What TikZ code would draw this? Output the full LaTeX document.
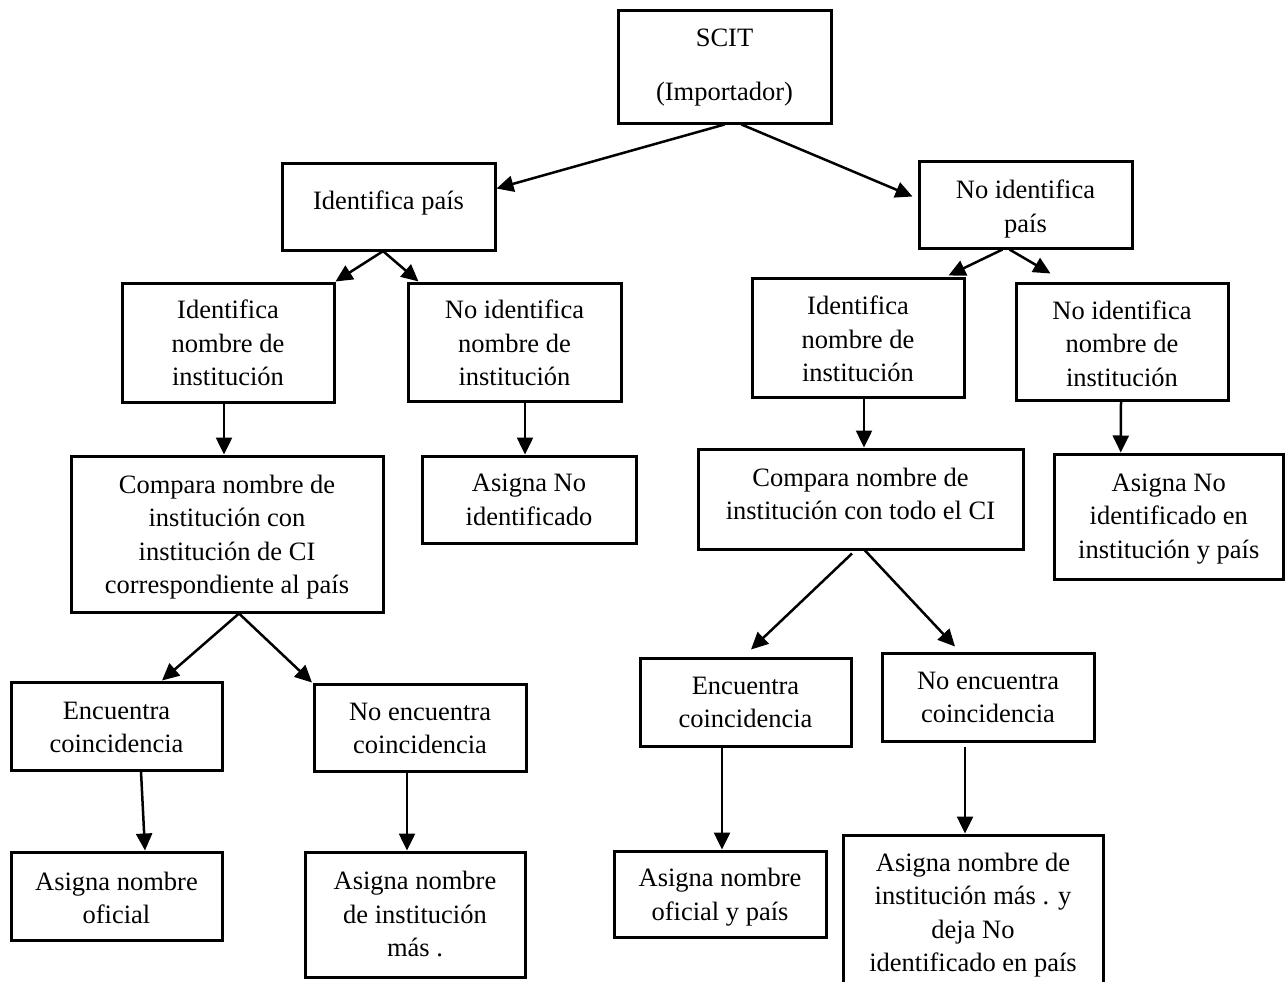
\documentclass[tikz,border=0pt]{standalone}
\usepackage{fontspec}
\setmainfont{Liberation Serif}
\usetikzlibrary{arrows.meta,calc}

\tikzset{
  stepbox/.style={draw, line width=3pt, inner sep=0pt},
  txt/.style={inner sep=0pt, align=center, yshift=-5pt,
    font=\fontsize{26.5}{33.5}\selectfont,
    execute at begin node=\strut, execute at end node=\strut},
  arr/.style={line width=2.5pt, -{Triangle[length=17pt,width=16pt]}},
}

% \flowbox{name}{x1}{y1}{x2}{y2}{text centre y}{text}
\newcommand\flowbox[7]{%
  \node[stepbox, minimum width={#4-#2}, minimum height={#5-#3}]
    (#1) at ({(#2+#4)/2},{(#3+#5)/2}) {};
  \node[txt] (#1-t) at ({(#2+#4)/2},#6) {#7};
}

\begin{document}
\begin{tikzpicture}[x=1pt, y=-1pt]
\useasboundingbox (0,0) rectangle (1285,982);

% boxes
\flowbox{scit}{618}{11}{831}{123}{65}{SCIT\\[20.5pt](Importador)}
\flowbox{idp}{282}{163}{495}{250}{198}{Identifica país}
\flowbox{nidp}{919}{161}{1132}{248}{206}{No identifica\\país}

\flowbox{lin}{122}{283}{334}{402}{343}{Identifica\\nombre de\\institución}
\flowbox{lnin}{408}{283}{621}{401}{343}{No identifica\\nombre de\\institución}
\flowbox{rin}{752}{278}{964}{397}{339}{Identifica\\nombre de\\institución}
\flowbox{rnin}{1016}{283}{1228}{400}{343.5}{No identifica\\nombre de\\institución}

\flowbox{lcmp}{71}{456}{383}{612}{534.5}{Compara nombre de\\institución con\\institución de CI\\correspondiente al país}
\flowbox{lasg}{422}{456}{636}{543}{499.5}{Asigna No\\identificado}
\flowbox{rcmp}{698}{449}{1023}{549}{494}{Compara nombre de\\institución con todo el CI}
\flowbox{rasg}{1054}{454}{1283.5}{579}{516}{Asigna No\\identificado en\\institución y país}

\flowbox{lenc}{11}{682}{222}{770}{727.5}{Encuentra\\coincidencia}
\flowbox{lnenc}{314}{684}{526}{771}{728.5}{No encuentra\\coincidencia}
\flowbox{renc}{640}{658}{851}{746}{702.5}{Encuentra\\coincidencia}
\flowbox{rnenc}{882}{653}{1094}{741}{697.5}{No encuentra\\coincidencia}

\flowbox{lof}{11}{852}{222}{940}{898}{Asigna nombre\\oficial}
\flowbox{lmas}{305}{852}{525}{977}{914}{Asigna nombre\\de institución\\más .}
\flowbox{rof}{614}{851}{826}{937}{894.5}{Asigna nombre\\oficial y país}
\flowbox{rmas}{843}{835}{1103}{1000}{912.5}{Asigna nombre de\\institución más . y\\deja No\\identificado en país}

% connectors
\draw[arr] (scit.south) -- ($(idp.east)+(0,-18)$);
\draw[arr] ($(scit.south)+(17,0)$) -- ($(nidp.west)+(-5,-8)$);

\draw[arr] ($(idp.south)+(-6,0)$) -- (lin.north east);
\draw[arr] ($(idp.south)+(-5,0)$) -- ($(lnin.north west)+(12,0)$);
\draw[arr] ($(nidp.south)+(-23,0)$) -- ($(rin.north east)+(-17,-1)$);
\draw[arr] ($(nidp.south)+(-16,0)$) -- ($(rnin.north west)+(36,-8)$);

\draw[arr] ($(lin.south)+(-4,0)$) -- ($(lcmp.north)+(-3,0)$);
\draw[arr] ($(lnin.south)+(10.5,0)$) -- ($(lasg.north)+(-4,0)$);
\draw[arr] ($(rin.south)+(6,0)$) -- ($(rcmp.north)+(3.5,0)$);
\draw[arr] ($(rnin.south)+(-1,0)$) -- ($(rasg.north)+(-48,0)$);

\draw[arr] ($(lcmp.south)+(12,0)$) -- ($(lenc.north)+(45.5,0)$);
\draw[arr] ($(lcmp.south)+(12,0)$) -- ($(lnenc.north)+(-108,0)$);
\draw[arr] ($(rcmp.south)+(-8.5,3)$) -- ($(renc.north)+(5.5,-7)$);
\draw[arr] ($(rcmp.south)+(4.5,0)$) -- ($(rnenc.north)+(-33,-5)$);

\draw[arr] ($(lenc.south)+(24.5,0)$) -- ($(lof.north)+(28.5,0)$);
\draw[arr] ($(lnenc.south)+(-13,0)$) -- ($(lmas.north)+(-8,0)$);
\draw[arr] ($(renc.south)+(-23.5,0)$) -- ($(rof.north)+(2,0)$);
\draw[arr] ($(rnenc.south)+(-23,4)$) -- ($(rmas.north)+(-8,0)$);
\end{tikzpicture}
\end{document}
